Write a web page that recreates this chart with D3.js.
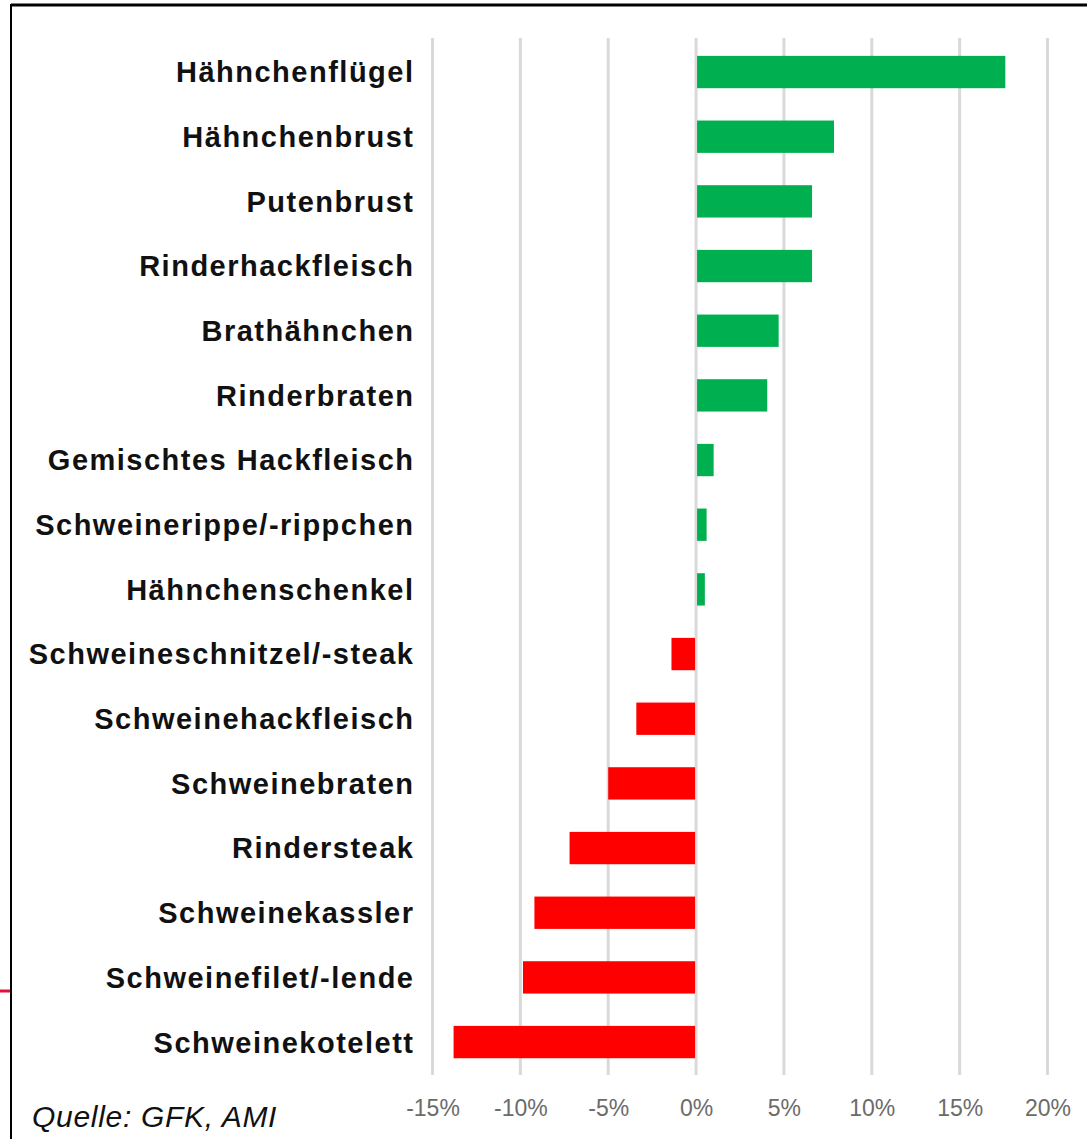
<!DOCTYPE html>
<html lang="de">
<head>
<meta charset="utf-8">
<title>Fleisch</title>
<script src="https://d3js.org/d3.v7.min.js"></script>
<style>
  body { margin: 0; background: #fff; }
  .cat text { font-family: "Liberation Sans", Arial, sans-serif; font-weight: bold; font-size: 29px; letter-spacing: 1.5px; fill: #111; }
  .axis text { font-family: "Liberation Sans", Arial, sans-serif; font-size: 23px; fill: #6b6b6b; }
  .grid line { stroke: #d9d9d9; stroke-width: 3px; }
</style>
</head>
<body>
<script>
// data
const categories = ["Hähnchenflügel", "Hähnchenbrust", "Putenbrust", "Rinderhackfleisch",
  "Brathähnchen", "Rinderbraten", "Gemischtes Hackfleisch", "Schweinerippe/-rippchen",
  "Hähnchenschenkel", "Schweineschnitzel/-steak", "Schweinehackfleisch", "Schweinebraten",
  "Rindersteak", "Schweinekassler", "Schweinefilet/-lende", "Schweinekotelett"];
const values = [17.6, 7.85, 6.6, 6.6, 4.7, 4.05, 1.0, 0.6, 0.5, -1.4, -3.4, -5.0, -7.2, -9.2, -9.85, -13.8];
const ticks = [-15, -10, -5, 0, 5, 10, 15, 20];

const w = 1087, h = 1139;

const svg = d3.select("body").append("svg")
  .attr("width", w).attr("height", h);

// frame
svg.append("line").attr("x1", 11).attr("x2", w).attr("y1", 5).attr("y2", 5)
  .attr("stroke", "#000").attr("stroke-width", 3);
svg.append("line").attr("x1", 11).attr("x2", 11).attr("y1", 4).attr("y2", h)
  .attr("stroke", "#000").attr("stroke-width", 2);
svg.append("line").attr("x1", 0).attr("x2", 10).attr("y1", 991).attr("y2", 991)
  .attr("stroke", "#e2103c").attr("stroke-width", 3);

const x = d3.scaleLinear().domain([-15, 20]).range([432.5, 1047.5]);
const y = d3.scaleBand().domain(categories).range([39.7, 1074.4]).paddingInner(0.5).paddingOuter(0.25);

// gridlines
svg.append("g").attr("class", "grid")
  .selectAll("line").data(ticks).join("line")
  .attr("x1", d => x(d)).attr("x2", d => x(d))
  .attr("y1", 38).attr("y2", 1075);

// bars
svg.append("g").selectAll("rect").data(values).join("rect")
  .attr("x", d => d >= 0 ? x(0) + 1 : x(d))
  .attr("width", d => Math.abs(x(d) - x(0)) - 1)
  .attr("y", (d, i) => y(categories[i]))
  .attr("height", y.bandwidth())
  .attr("fill", d => d >= 0 ? "#00b050" : "#ff0000");

// category labels
svg.append("g").attr("class", "cat").selectAll("text").data(categories).join("text")
  .attr("x", 414.5)
  .attr("y", d => y(d) + y.bandwidth() / 2)
  .attr("dy", "0.36em")
  .attr("text-anchor", "end")
  .text(d => d);

// x axis labels
const xAxis = d3.axisBottom(x).tickValues(ticks).tickSize(0).tickFormat(d => d + "%");
svg.append("g").attr("class", "axis")
  .attr("transform", "translate(0,1097)")
  .call(xAxis)
  .call(g => g.select(".domain").remove());

// source
svg.append("text")
  .attr("x", 32).attr("y", 1127)
  .style("font-family", "Liberation Sans, Arial, sans-serif")
  .style("font-style", "italic").style("font-size", "30px").style("letter-spacing", "0.7px").style("fill", "#111")
  .text("Quelle: GFK, AMI");
</script>
</body>
</html>
